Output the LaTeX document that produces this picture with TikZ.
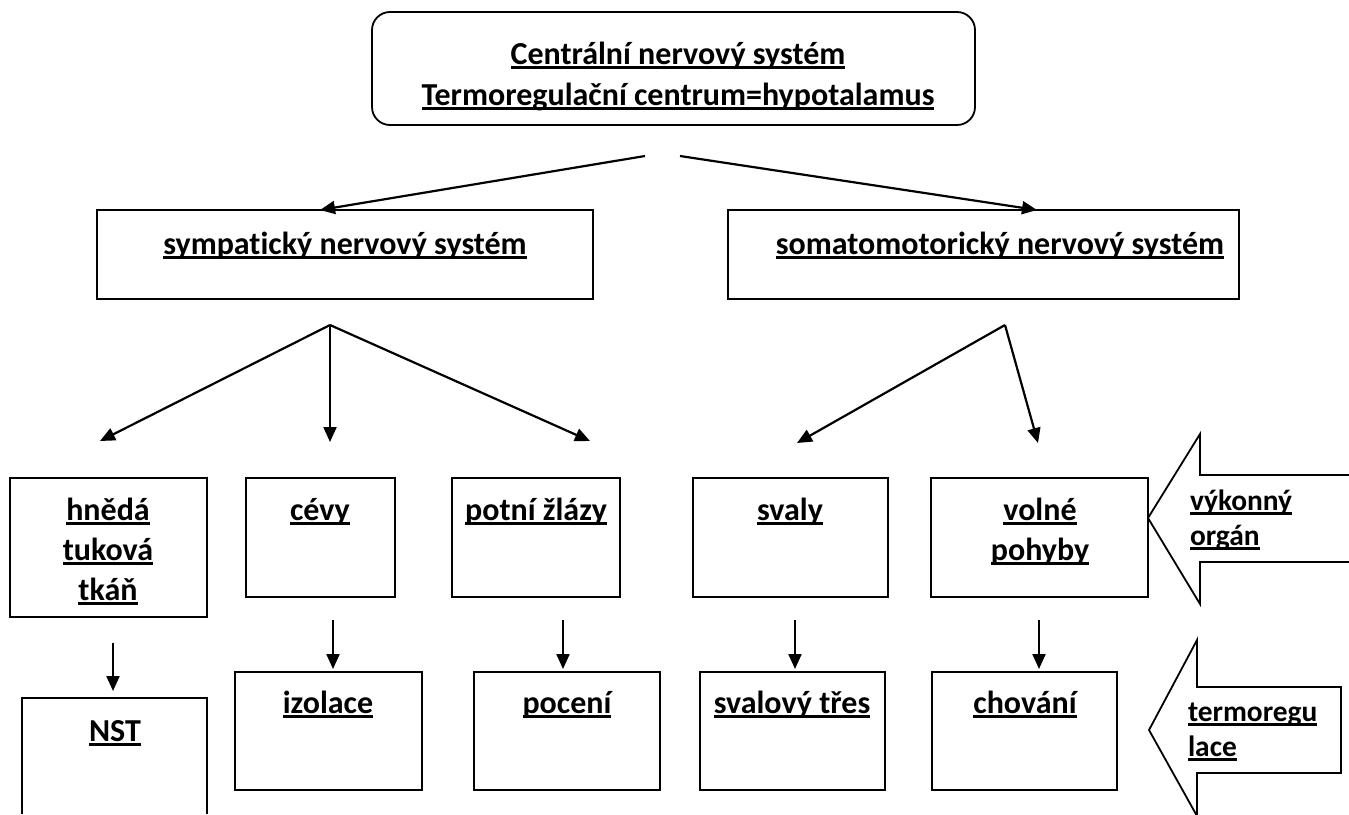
\documentclass[tikz,border=0pt]{standalone}
\usepackage{fontspec}
\setmainfont{Carlito}[Ligatures=NoCommon]
\usetikzlibrary{arrows.meta}

% underlined text with a thick rule just below the baseline
\newsavebox\ulbox
\newcommand\ulx[1]{\sbox\ulbox{#1}\rlap{\vrule width\wd\ulbox height -1.5pt depth 4.5pt}\usebox\ulbox}
% centred and left-aligned stacks whose reference point is the first baseline
\newcommand\cstk[2]{\vtop{\baselineskip=#1\lineskiplimit=-100pt\halign{\hfil##\hfil\cr#2\crcr}}}
\newcommand\lstk[2]{\vtop{\baselineskip=#1\lineskiplimit=-100pt\halign{##\hfil\cr#2\crcr}}}

\tikzset{
  box/.style={draw, line width=1.8pt, inner sep=0pt, outer sep=0pt, anchor=north west},
  lbl/.style={inner sep=0pt, outer sep=0pt, anchor=base, font=\fontsize{32}{40}\selectfont\bfseries},
  llbl/.style={inner sep=0pt, outer sep=0pt, anchor=base west, font=\fontsize{29.4}{35}\selectfont\bfseries},
  arr/.style={line width=2.2pt, -{Triangle[length=15pt,width=13pt]}},
  bigarrow/.style={line width=1.8pt, line join=miter},
}

\begin{document}
\begin{tikzpicture}[x=1pt,y=-1pt]
\useasboundingbox[fill=white] (0,0) rectangle (1349,814);

% --- boxes ---
\node[box, rounded corners=18pt, minimum width=603pt, minimum height=113pt] (cns) at (372,12) {};
\node[box, minimum width=496pt, minimum height=89pt] (sym) at (97,210) {};
\node[box, minimum width=511pt, minimum height=89pt] (som) at (728,210) {};

\node[box, minimum width=197pt, minimum height=139pt] (hneda) at (10,478) {};
\node[box, minimum width=149pt, minimum height=119pt] (cevy) at (246,478) {};
\node[box, minimum width=168pt, minimum height=119pt] (potni) at (452,478) {};
\node[box, minimum width=195pt, minimum height=119pt] (svaly) at (693,478) {};
\node[box, minimum width=217pt, minimum height=119pt] (volne) at (931,478) {};

\node[box, draw=none, minimum width=185pt, minimum height=116pt] (nst) at (22,698) {};
\draw[line width=1.8pt] (nst.south west) -- (nst.north west) -- (nst.north east) -- (nst.south east);
\node[box, minimum width=187pt, minimum height=118pt] (izol) at (235,672) {};
\node[box, minimum width=186pt, minimum height=118pt] (poceni) at (474,672) {};
\node[box, minimum width=185pt, minimum height=118pt] (tres) at (700,672) {};
\node[box, minimum width=185pt, minimum height=118pt] (chov) at (932,672) {};

% --- texts ---
\node[lbl] (tcns) at (678,64) {\cstk{41pt}{\ulx{Centrální nervový systém}\cr\ulx{Termoregulační centrum=hypotalamus}}};
\node[lbl] (tsym) at (345,254) {\ulx{sympatický nervový systém}};
\node[lbl] (tsom) at (1000,254) {\ulx{somatomotorický nervový systém}};
\node[lbl] (thneda) at (108,520) {\cstk{40pt}{\ulx{hnědá}\cr\ulx{tuková}\cr\ulx{tkáň}}};
\node[lbl] (tcevy) at (320,520) {\ulx{cévy}};
\node[lbl] (tpotni) at (536,520) {\ulx{potní žlázy}};
\node[lbl] (tsvaly) at (790,520) {\ulx{svaly}};
\node[lbl] (tvolne) at (1040,520) {\cstk{40pt}{\ulx{volné}\cr\ulx{pohyby}}};
\node[lbl] (tnst) at (115,741) {\ulx{NST}};
\node[lbl] (tizol) at (328,713) {\ulx{izolace}};
\node[lbl] (tpoceni) at (567,713) {\ulx{pocení}};
\node[lbl] (ttres) at (792,713) {\ulx{svalový třes}};
\node[lbl] (tchov) at (1025,713) {\ulx{chování}};

% --- block arrows on the right ---
\draw[bigarrow] (1352,475) -- (1200,475) -- (1200,434) -- (1148,518) -- (1200,604) -- (1200,562) -- (1352,562);
\draw[bigarrow] (1341,687) -- (1197,687) -- (1197,640) -- (1149,730) -- (1197,816) -- (1197,773) -- (1341,773) -- cycle;
\node[llbl] (tvyk) at (1190,510) {\lstk{35pt}{\ulx{výkonný}\cr\ulx{orgán}}};
\node[llbl] (tterm) at (1188,721) {\lstk{35pt}{\ulx{termoregu}\cr\ulx{lace}}};

% --- connectors ---
\coordinate (t1) at (645,156);
\coordinate (t2) at (680,156);
\draw[arr] (t1) -- ([xshift=223pt]sym.north west);
\draw[arr] (t2) -- ([xshift=309pt]som.north west);

\coordinate (s0) at (330,325);
\coordinate (s1) at (100,441);
\coordinate (s2) at (330,442);
\coordinate (s3) at (590,441);
\draw[arr] (s0) -- (s1);
\draw[arr] (s0) -- (s2);
\draw[arr] (s0) -- (s3);

\coordinate (m0) at (1005,325);
\coordinate (m1) at (797,443);
\coordinate (m2) at (1038,443);
\draw[arr] (m0) -- (m1);
\draw[arr] (m0) -- (m2);

\coordinate (v1a) at (113,643); \coordinate (v1b) at (113,691);
\coordinate (v2a) at (333,620); \coordinate (v2b) at (333,669);
\coordinate (v3a) at (563,620); \coordinate (v3b) at (563,669);
\coordinate (v4a) at (795,620); \coordinate (v4b) at (795,669);
\coordinate (v5a) at (1039,620); \coordinate (v5b) at (1039,669);
\draw[arr] (v1a) -- (v1b);
\draw[arr] (v2a) -- (v2b);
\draw[arr] (v3a) -- (v3b);
\draw[arr] (v4a) -- (v4b);
\draw[arr] (v5a) -- (v5b);
\end{tikzpicture}
\end{document}
